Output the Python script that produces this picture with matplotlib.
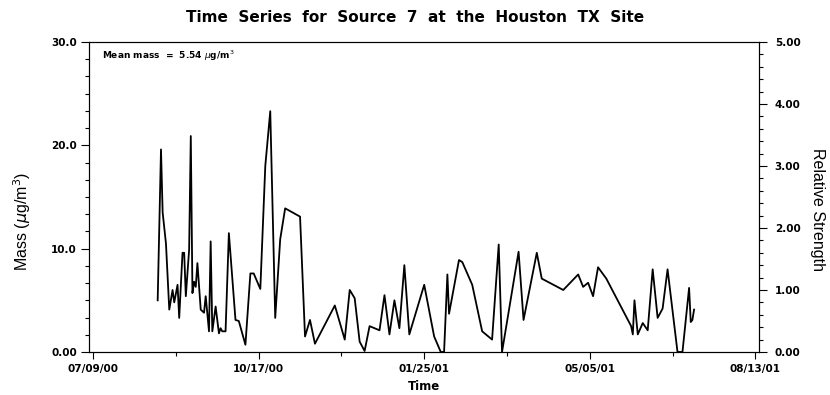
import matplotlib
matplotlib.use('Agg')
import pandas as pd
import matplotlib.dates as mdates
from matplotlib import pyplot as plt
from matplotlib.ticker import FixedLocator, AutoMinorLocator

# Source 7 mass contributions, Houston TX
dates = [
    '2000-08-17', '2000-08-19', '2000-08-20', '2000-08-22', '2000-08-24', '2000-08-26',
    '2000-08-27', '2000-08-29', '2000-08-30', '2000-09-01', '2000-09-02', '2000-09-03',
    '2000-09-05', '2000-09-06', '2000-09-07', '2000-09-08', '2000-09-09', '2000-09-10',
    '2000-09-12', '2000-09-14', '2000-09-15', '2000-09-17', '2000-09-18', '2000-09-19',
    '2000-09-21', '2000-09-23', '2000-09-24', '2000-09-25', '2000-09-27', '2000-09-29',
    '2000-10-03', '2000-10-05', '2000-10-09', '2000-10-12', '2000-10-14', '2000-10-18',
    '2000-10-21', '2000-10-24', '2000-10-27', '2000-10-30', '2000-11-02', '2000-11-11',
    '2000-11-14', '2000-11-17', '2000-11-20', '2000-12-02', '2000-12-08', '2000-12-11',
    '2000-12-14', '2000-12-17', '2000-12-20', '2000-12-23', '2000-12-29', '2001-01-01',
    '2001-01-04', '2001-01-07', '2001-01-10', '2001-01-13', '2001-01-16', '2001-01-25',
    '2001-01-31', '2001-02-04', '2001-02-06', '2001-02-08', '2001-02-09', '2001-02-15',
    '2001-02-17', '2001-02-23', '2001-03-01', '2001-03-07', '2001-03-11', '2001-03-13',
    '2001-03-23', '2001-03-26', '2001-04-03', '2001-04-06', '2001-04-19', '2001-04-28',
    '2001-05-01', '2001-05-04', '2001-05-07', '2001-05-10', '2001-05-15', '2001-05-30',
    '2001-05-31', '2001-06-01', '2001-06-03', '2001-06-06', '2001-06-09', '2001-06-12',
    '2001-06-15', '2001-06-18', '2001-06-21', '2001-06-27', '2001-06-30', '2001-07-04',
    '2001-07-05', '2001-07-06', '2001-07-07',
]
mass = [
    5.0, 19.6, 13.5, 10.5, 4.1, 6.0,
    4.8, 6.5, 3.3, 9.6, 9.6, 5.4,
    9.9, 20.9, 5.7, 6.8, 6.3, 8.6,
    4.1, 3.8, 5.4, 2.0, 10.7, 2.0,
    4.4, 1.8, 2.3, 2.0, 2.0, 11.5,
    3.1, 3.0, 0.7, 7.6, 7.6, 6.1,
    18.0, 23.3, 3.3, 10.9, 13.9, 13.1,
    1.5, 3.1, 0.8, 4.5, 1.2, 6.0,
    5.2, 1.0, 0.1, 2.5, 2.1, 5.5,
    1.7, 5.0, 2.3, 8.4, 1.7, 6.5,
    1.5, 0.0, 0.0, 7.5, 3.7, 8.9,
    8.7, 6.5, 2.0, 1.2, 10.4, 0.0,
    9.7, 3.1, 9.6, 7.1, 6.0, 7.5,
    6.3, 6.7, 5.4, 8.2, 7.1, 2.5,
    1.7, 5.0, 1.7, 2.8, 2.1, 8.0,
    3.3, 4.2, 8.0, 0.0, 0.0, 6.2,
    2.9, 3.1, 4.1,
]
mean_mass = 5.54

x_ticks = ['2000-07-09', '2000-10-17', '2001-01-25', '2001-05-05', '2001-08-13']
mass_ticks = [0, 10, 20, 30]
mass_labels = ['0.00', '10.0', '20.0', '30.0']
strength_ticks = [0, 1, 2, 3, 4, 5]
strength_labels = ['0.00', '1.00', '2.00', '3.00', '4.00', '5.00']

t = pd.to_datetime(dates)
tick_dates = pd.to_datetime(x_ticks)
minor_dates = tick_dates[:-1] + (tick_dates[1:] - tick_dates[:-1]) / 2

fig = plt.figure(figsize=(8.3, 3.95), dpi=100)
ax = fig.add_axes([0.1078, 0.1089, 0.8072, 0.7848])
ax.plot(t, mass, color='black', lw=1.3)

ax.set_xlim(tick_dates[0] - pd.Timedelta(days=2.2), tick_dates[-1] + pd.Timedelta(days=2.5))
ax.set_ylim(0, 30)

ax.xaxis.set_major_locator(FixedLocator(mdates.date2num(tick_dates)))
ax.xaxis.set_minor_locator(FixedLocator(mdates.date2num(minor_dates)))
ax.xaxis.set_major_formatter(mdates.DateFormatter('%m/%d/%y'))

ax.set_yticks(mass_ticks)
ax.set_yticklabels(mass_labels)
ax.yaxis.set_minor_locator(AutoMinorLocator(6))

tick_font = dict(family='DejaVu Sans', weight='bold', size=7.5)
for lab in ax.get_xticklabels() + ax.get_yticklabels():
    lab.set_fontproperties(tick_font)
ax.tick_params(axis='both', which='major', length=6, width=0.8, pad=3)
ax.tick_params(axis='both', which='minor', length=3, width=0.8)
ax.tick_params(axis='x', which='major', length=5, pad=4)

ax2 = ax.twinx()
ax2.set_ylim(0, 5)
ax2.set_yticks(strength_ticks)
ax2.set_yticklabels(strength_labels)
ax2.yaxis.set_minor_locator(AutoMinorLocator(5))
for lab in ax2.get_yticklabels():
    lab.set_fontproperties(tick_font)
ax2.tick_params(axis='y', which='major', length=6, width=0.8, pad=5)
ax2.tick_params(axis='y', which='minor', length=3, width=0.8)

for a in (ax, ax2):
    for sp in a.spines.values():
        sp.set_linewidth(0.8)

ax.set_ylabel(r'Mass ($\mu$g/m$^3$)', family='Liberation Sans', fontsize=11.5, va='center')
ax.yaxis.set_label_coords(-0.1, 0.42)
ax2.set_ylabel('Relative Strength', family='Liberation Sans', fontsize=11.5, rotation=270,
               va='center')
ax2.yaxis.set_label_coords(1.087, 0.46)
ax.set_xlabel('Time', family='DejaVu Sans', weight='bold', fontsize=8.5, labelpad=4)

ax.text(0.018, 0.955, r'Mean mass  =  %.2f $\mu$g/m$^3$' % mean_mass,
        transform=ax.transAxes, family='DejaVu Sans', weight='bold', fontsize=6.5,
        va='center', ha='left')

fig.suptitle('Time  Series  for  Source  7  at  the  Houston  TX  Site',
             family='DejaVu Sans', weight='bold', fontsize=11, y=0.975)

fig.savefig('out.png', dpi=100)
